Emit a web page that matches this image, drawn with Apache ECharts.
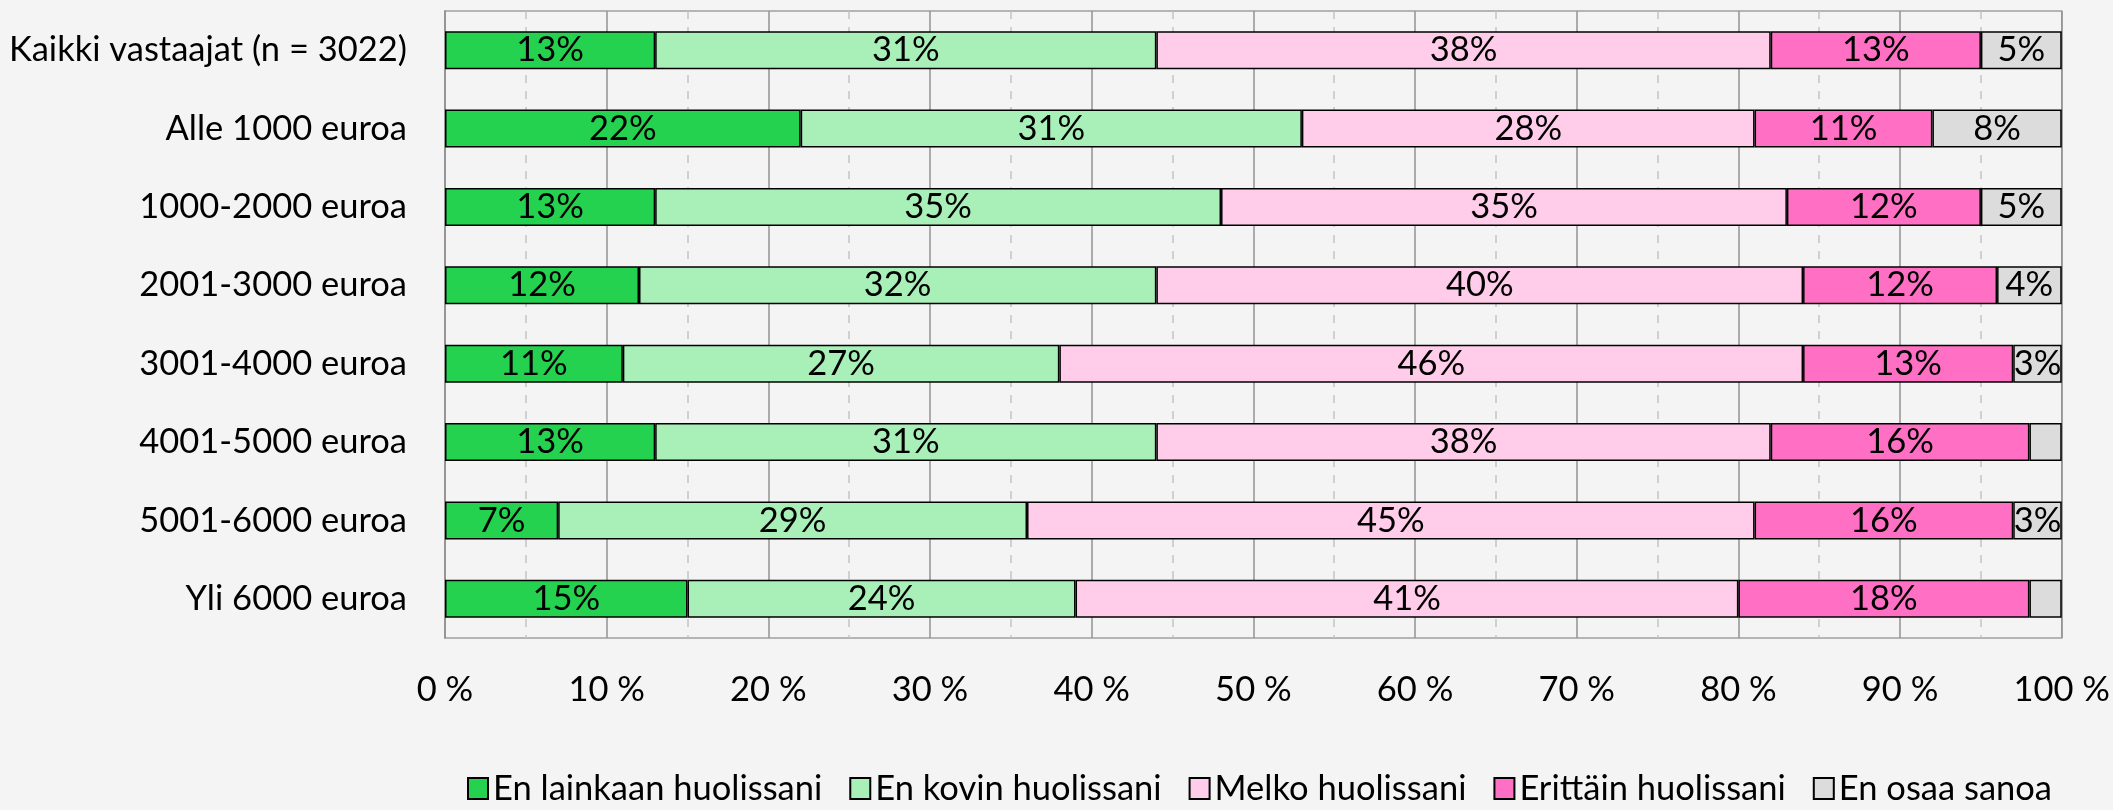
<!DOCTYPE html>
<html>
<head>
<meta charset="utf-8">
<script src="https://cdn.jsdelivr.net/npm/echarts@6/dist/echarts.min.js"></script>
<style>
  html, body { margin: 0; padding: 0; background: #F4F4F4; }
  #chart { width: 2113px; height: 810px; }
</style>
</head>
<body>
<div id="chart"></div>
<script>
// Income groups (top to bottom)
const categories = [
  'Kaikki vastaajat (n = 3022)',
  'Alle 1000 euroa',
  '1000-2000 euroa',
  '2001-3000 euroa',
  '3001-4000 euroa',
  '4001-5000 euroa',
  '5001-6000 euroa',
  'Yli 6000 euroa'
];

// Share of respondents (%) per answer
const enLainkaan   = [13, 22, 13, 12, 11, 13,  7, 15];
const enKovin      = [31, 31, 35, 32, 27, 31, 29, 24];
const melko        = [38, 28, 35, 40, 46, 38, 45, 41];
const erittain     = [13, 11, 12, 12, 13, 16, 16, 18];
const enOsaaSanoa  = [ 5,  8,  5,  4,  3,  2,  3,  2];

const seriesNames = [
  'En lainkaan huolissani',
  'En kovin huolissani',
  'Melko huolissani',
  'Erittäin huolissani',
  'En osaa sanoa'
];
const seriesValues = [enLainkaan, enKovin, melko, erittain, enOsaaSanoa];
const seriesColors = ['#24D24F', '#A8EFB8', '#FFCCE9', '#FF70C4', '#DCDCDC'];

const xTicks = [0, 10, 20, 30, 40, 50, 60, 70, 80, 90, 100];

const FONT = 'Lato';
const FS = 34.5;

const chart = echarts.init(document.getElementById('chart'), null, { renderer: 'canvas' });

chart.setOption({
  backgroundColor: '#F4F4F4',
  animation: false,
  textStyle: { fontFamily: FONT, color: '#000' },
  grid: {
    left: 445, right: 51, top: 11, bottom: 172,
    show: true, borderColor: '#A0A0A0', borderWidth: 1.5,
    backgroundColor: 'transparent'
  },
  legend: {
    bottom: -1,
    left: 462,
    itemWidth: 20,
    itemHeight: 21,
    itemGap: 27,
    icon: 'rect',
    textStyle: { fontFamily: FONT, fontSize: FS, color: '#000', padding: [0, 0, 0, 0] },
    data: seriesNames
  },
  xAxis: {
    type: 'value',
    min: xTicks[0],
    max: xTicks[xTicks.length - 1],
    interval: 10,
    axisLine: { show: false },
    axisTick: { show: false },
    minorTick: { show: false, splitNumber: 2 },
    splitLine: { show: true, lineStyle: { color: '#939393', width: 1.5 } },
    minorSplitLine: { show: true, lineStyle: { color: '#C4C4C4', width: 1.5, type: [8, 8] } },
    axisLabel: {
      margin: 34,
      fontFamily: FONT, fontSize: FS, color: '#000',
      formatter: v => v + ' %'
    }
  },
  yAxis: {
    type: 'category',
    inverse: true,
    data: categories,
    axisLine: { show: true, lineStyle: { color: '#939393', width: 1.5 } },
    axisTick: { show: false },
    axisLabel: { margin: 38, fontFamily: FONT, fontSize: FS, color: '#000' }
  },
  series: seriesNames.map((name, i) => ({
    name,
    type: 'bar',
    stack: 'total',
    barWidth: 38,
    data: seriesValues[i],
    itemStyle: { color: seriesColors[i], borderColor: '#000', borderWidth: 1.5 },
    label: {
      show: true,
      position: 'inside',
      fontFamily: FONT,
      fontSize: FS,
      color: '#000',
      formatter: p => (p.value >= 3 ? p.value + '%' : '')
    }
  }))
});
</script>
</body>
</html>
